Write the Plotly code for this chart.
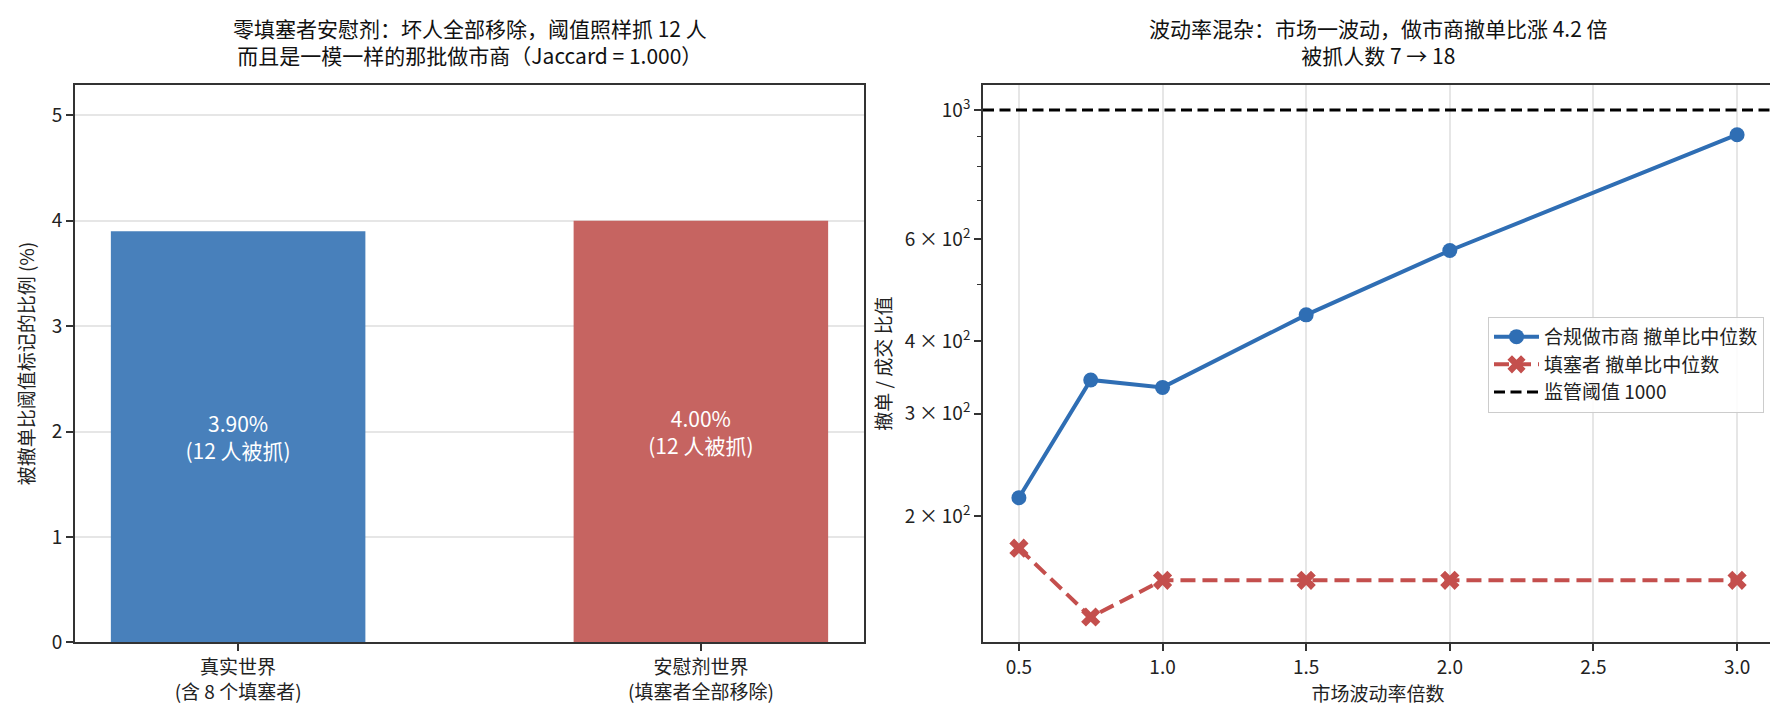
import math
import plotly.graph_objects as go

# left panel: share of traders flagged by the cancel/fill threshold
worlds = ["真实世界<br>(含 8 个填塞者)", "安慰剂世界<br>(填塞者全部移除)"]
flag_rate = [3.90, 4.00]
n_caught = [12, 12]

# right panel: median cancel/fill ratio vs market volatility multiplier
vol_mult = [0.5, 0.75, 1.0, 1.5, 2.0, 3.0]
mm_ratio = [215, 343, 333, 444, 573, 907]
stuffer_ratio = [176, 134, 155, 155, 155, 155]
THRESHOLD = 1000

log_ticks = [200, 300, 400, 600, 1000]
log_labels = ["2\u2009×\u200910<sup>2</sup>", "3\u2009×\u200910<sup>2</sup>",
              "4\u2009×\u200910<sup>2</sup>", "6\u2009×\u200910<sup>2</sup>",
              "10<sup>3</sup>"]
minor_ticks = [500, 700, 800, 900]

FONT = "Noto Sans CJK SC"
W, H = 1778, 727
bar_colors = ["#4880bb", "#c66461"]
blue = "#2f6eb4"
red = "#c44f4d"
axis_col = "#333333"
grid_col = "#e6e6e6"

fig = go.Figure()

fig.add_trace(go.Bar(
    x=worlds, y=flag_rate, width=0.55,
    marker=dict(color=bar_colors, line=dict(width=0)),
    text=[f"{r:.2f}%<br>({n} 人被抓)" for r, n in zip(flag_rate, n_caught)],
    textposition="inside", insidetextanchor="middle", textangle=0,
    constraintext="none",
    textfont=dict(color="white", size=21, family=FONT),
    showlegend=False, xaxis="x", yaxis="y"))

fig.add_trace(go.Scatter(
    x=vol_mult, y=mm_ratio, mode="lines+markers", name="合规做市商 撤单比中位数",
    line=dict(color=blue, width=4), marker=dict(color=blue, size=15, symbol="circle"),
    xaxis="x2", yaxis="y2"))
fig.add_trace(go.Scatter(
    x=vol_mult, y=stuffer_ratio, mode="lines+markers", name="填塞者 撤单比中位数",
    line=dict(color=red, width=4, dash="15px,7px"),
    marker=dict(color=red, size=17, symbol="x", line=dict(width=0)),
    xaxis="x2", yaxis="y2"))

# regulatory threshold, drawn across the whole panel
fig.add_shape(type="line", xref="x2 domain", x0=0, x1=1,
              yref="y2", y0=THRESHOLD, y1=THRESHOLD,
              line=dict(color="black", width=3, dash="11px,5.5px"),
              showlegend=True, name=f"监管阈值 {THRESHOLD}")

# matplotlib-style autoscale with 5% margins
lo = math.log10(min(stuffer_ratio + mm_ratio))
hi = math.log10(max(mm_ratio + [THRESHOLD]))
pad = (hi - lo) * 0.05
xpad = (max(vol_mult) - min(vol_mult)) * 0.05

ax_common = dict(showline=True, mirror=True, linecolor=axis_col, linewidth=1.8,
                 ticks="outside", ticklen=7, tickwidth=1.5, tickcolor=axis_col,
                 tickfont=dict(size=19, family=FONT, color="#222"), zeroline=False)

top_px, bot_px = 78, 645
y_dom = [(H - bot_px) / H, (H - top_px) / H]

fig.update_layout(
    width=W, height=H,
    margin=dict(l=0, r=0, t=0, b=0),
    paper_bgcolor="white", plot_bgcolor="white",
    font=dict(family=FONT, size=19, color="#222"),
    xaxis=dict(domain=[67 / W, 856 / W], range=[-0.3525, 1.3525], showgrid=False,
               anchor="y", **ax_common),
    yaxis=dict(domain=y_dom, range=[0, 5.29], dtick=1, showgrid=True,
               gridcolor=grid_col, gridwidth=1.5, anchor="x",
               title=dict(text="被撤单比阈值标记的比例 (%)", standoff=12,
                          font=dict(size=19)), **ax_common),
    xaxis2=dict(domain=[975 / W, 1765 / W],
                range=[min(vol_mult) - xpad, max(vol_mult) + xpad],
                tickvals=[0.5, 1.0, 1.5, 2.0, 2.5, 3.0], tickformat=".1f",
                showgrid=True, gridcolor=grid_col, gridwidth=1.5, anchor="y2",
                title=dict(text="市场波动率倍数", standoff=8, font=dict(size=19)),
                **ax_common),
    yaxis2=dict(domain=y_dom, type="log", range=[lo - pad, hi + pad],
                tickvals=log_ticks, ticktext=log_labels, showgrid=False, anchor="x2",
                minor=dict(tickvals=minor_ticks, ticklen=4, ticks="outside",
                           tickcolor=axis_col, tickwidth=1.2),
                title=dict(text="撤单 / 成交 比值", standoff=8, font=dict(size=19)),
                **ax_common),
    legend=dict(x=1756 / W, xanchor="right", y=0.501, yanchor="middle",
                bgcolor="rgba(255,255,255,0.85)", bordercolor="#cccccc", borderwidth=1,
                itemwidth=45, font=dict(size=19, family=FONT)),
    showlegend=True,
)

fig.add_annotation(text="零填塞者安慰剂：坏人全部移除，阈值照样抓 12 人<br>而且是一模一样的那批做市商（Jaccard = 1.000）",
                   xref="paper", yref="paper", x=(67 + 856) / 2 / W, y=1 - 34 / H,
                   xanchor="center", yanchor="middle", showarrow=False,
                   font=dict(size=21, family=FONT, color="#111"))
fig.add_annotation(text="波动率混杂：市场一波动，做市商撤单比涨 4.2 倍<br>被抓人数 7 → 18",
                   xref="paper", yref="paper", x=(975 + 1765) / 2 / W, y=1 - 34 / H,
                   xanchor="center", yanchor="middle", showarrow=False,
                   font=dict(size=21, family=FONT, color="#111"))

fig.write_html("out.html")
